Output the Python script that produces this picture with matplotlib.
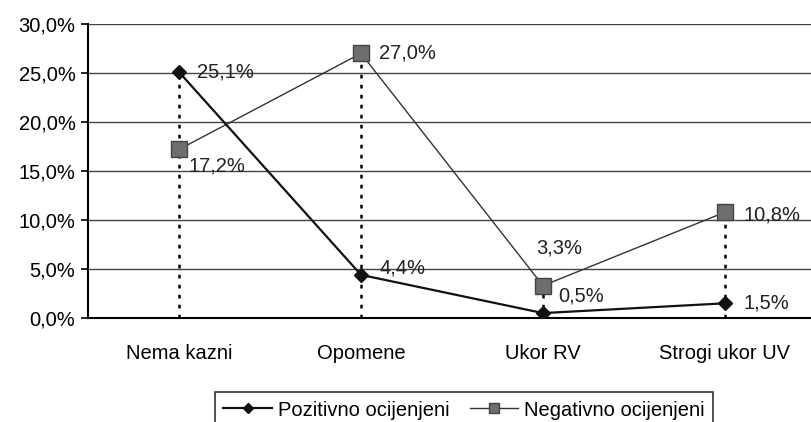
import matplotlib.pyplot as plt
from matplotlib.ticker import FuncFormatter

categories = ["Nema kazni", "Opomene", "Ukor RV", "Strogi ukor UV"]
pozitivno = [25.1, 4.4, 0.5, 1.5]
negativno = [17.2, 27.0, 3.3, 10.8]

plt.rcParams["font.family"] = ["Liberation Sans", "DejaVu Sans"]
plt.rcParams["font.size"] = 14.5

fig = plt.figure(figsize=(8.11, 4.22), dpi=100)
ax = fig.add_axes([88 / 811, 104 / 422, 728 / 811, 294 / 422])

x = list(range(len(categories)))

# dotted drop lines from the higher point to the axis
for i in x:
    ax.vlines(i, 0, max(pozitivno[i], negativno[i]), colors="black",
              linestyles=(0, (1.5, 2.5)), linewidth=1.8, zorder=2)

ax.plot(x, pozitivno, color="#111111", linewidth=1.6, marker="D",
        markersize=7, markerfacecolor="#111111", zorder=4,
        label="Pozitivno ocijenjeni")
ax.plot(x, negativno, color="#333333", linewidth=1.0, marker="s",
        markersize=11, markerfacecolor="#6e6e6e", markeredgecolor="#444444",
        zorder=3, label="Negativno ocijenjeni")

def pct(v):
    return f"{v:.1f}%".replace(".", ",")

# label offsets in points
poz_off = [(13, 0), (13, 5), (11, 12), (13, 0)]
neg_off = [(7, -12), (13, 0), (-5, 27), (13, -2)]
for i in x:
    ax.annotate(pct(pozitivno[i]), (i, pozitivno[i]), xytext=poz_off[i],
                textcoords="offset points", va="center", ha="left",
                color="#222222")
    ax.annotate(pct(negativno[i]), (i, negativno[i]), xytext=neg_off[i],
                textcoords="offset points", va="center", ha="left",
                color="#222222")

ax.set_xlim(-0.5, 3.5)
ax.set_ylim(0, 30)
ax.set_yticks(range(0, 31, 5))
ax.yaxis.set_major_formatter(FuncFormatter(lambda v, p: pct(v)))
ax.set_xticks(x)
ax.set_xticklabels(categories)
ax.tick_params(axis="x", length=0, pad=19)
ax.tick_params(axis="y", length=5, width=1.2, direction="out", pad=4)
ax.grid(axis="y", color="#444444", linewidth=1.0)
ax.set_axisbelow(True)
for side in ["top", "right"]:
    ax.spines[side].set_visible(False)
ax.spines["left"].set_linewidth(1.5)
ax.spines["bottom"].set_linewidth(1.5)

leg = fig.legend(loc="center", bbox_to_anchor=(464 / 811, 12 / 422),
                 ncol=2, frameon=True, fancybox=False, edgecolor="black",
                 handlelength=2.4, handletextpad=0.3, columnspacing=1.0,
                 borderpad=0.4, markerscale=0.7)
leg.get_frame().set_linewidth(1.2)

fig.savefig("out.png", dpi=100)
